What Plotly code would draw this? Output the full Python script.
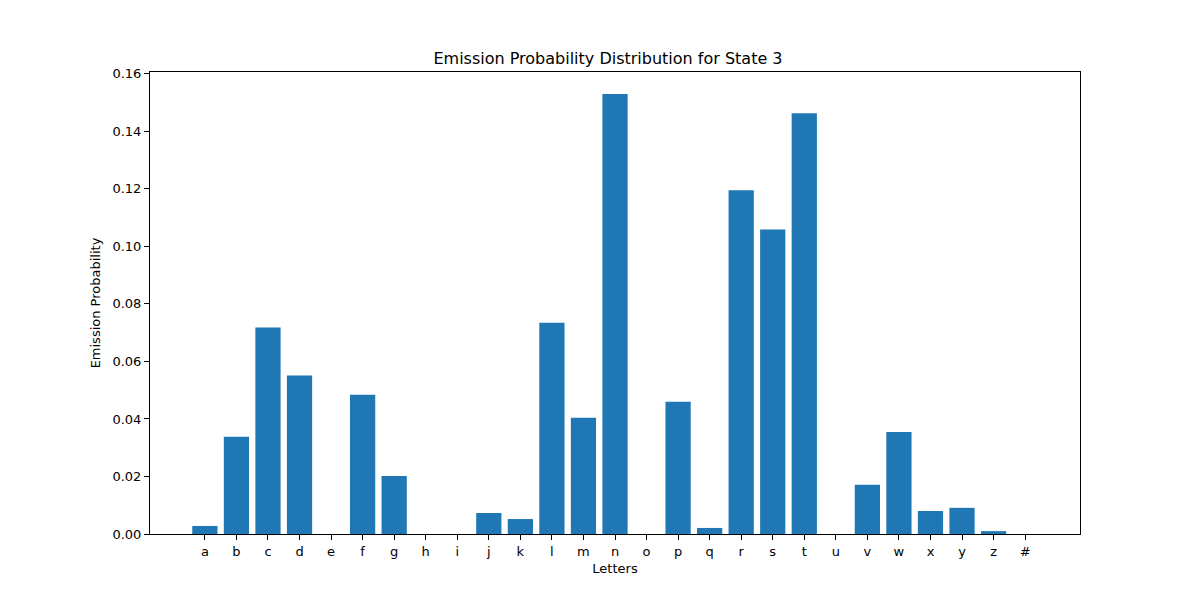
import plotly.graph_objects as go

# Emission probabilities for state 3
letters = ['a', 'b', 'c', 'd', 'e', 'f', 'g', 'h', 'i', 'j', 'k', 'l', 'm',
           'n', 'o', 'p', 'q', 'r', 's', 't', 'u', 'v', 'w', 'x', 'y', 'z', '#']
probs = [0.0028, 0.0338, 0.0718, 0.0551, 0.0, 0.0484, 0.0202, 0.0, 0.0,
         0.0073, 0.0052, 0.0735, 0.0404, 0.1530, 0.0, 0.0460, 0.0021,
         0.1195, 0.1059, 0.1463, 0.0, 0.0171, 0.0355, 0.0080, 0.0091,
         0.0010, 0.0]

fig = go.Figure(go.Bar(x=list(range(len(letters))), y=probs,
                       marker_color='#1f77b4', marker_line_width=0, width=0.8))

axis_common = dict(showline=True, linecolor='black', linewidth=1, mirror=True,
                   ticks='outside', ticklen=5, tickcolor='black', showgrid=False,
                   zeroline=False, tickfont=dict(size=13, color='black'))

fig.update_xaxes(tickvals=list(range(len(letters))), ticktext=letters,
                 range=[-1.74, len(letters) + 0.74],
                 title=dict(text='Letters', font=dict(size=13, color='black'), standoff=6),
                 **axis_common)
fig.update_yaxes(range=[0, max(probs) * 1.05], dtick=0.02, tickformat='.2f',
                 title=dict(text='Emission Probability', font=dict(size=13, color='black'), standoff=8),
                 **axis_common)

# page body adds an 8px offset, so margins are shifted to compensate
fig.update_layout(
    title=dict(text='Emission Probability Distribution for State 3', x=0.5, xanchor='center',
               y=0.9167, yanchor='middle', font=dict(size=16, color='black')),
    font=dict(family='DejaVu Sans'),
    width=1200, height=600,
    margin=dict(l=142, r=128, t=64, b=74),
    plot_bgcolor='white', paper_bgcolor='white',
    showlegend=False,
)

fig.write_html("out.html")
